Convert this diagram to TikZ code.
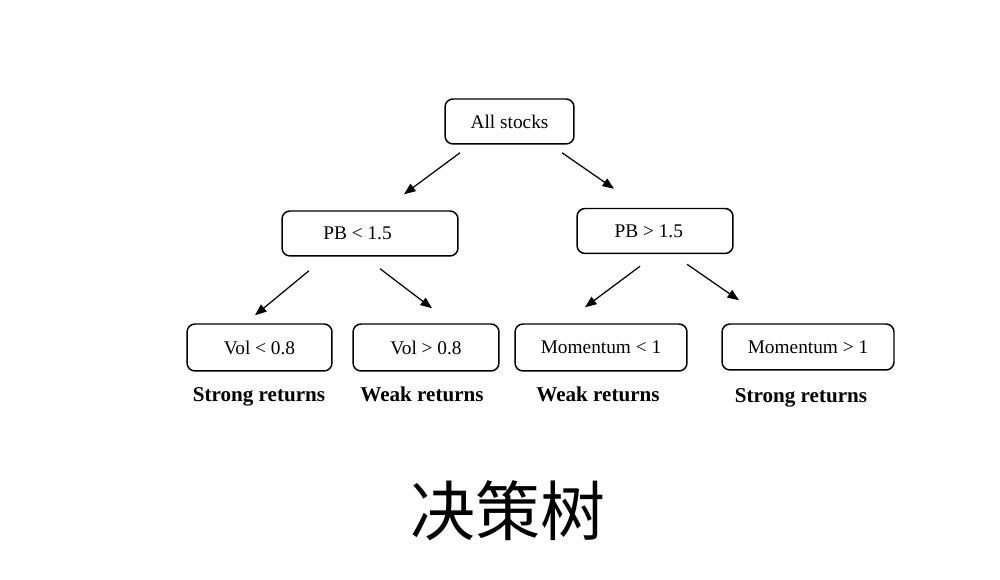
\documentclass[tikz,border=0pt]{standalone}
\usepackage{fontspec}
\setmainfont{Liberation Serif}
\newfontfamily\cjk{Noto Sans CJK SC}
\usepackage{tikz}
\usetikzlibrary{arrows.meta}
\tikzset{>={Triangle[length=2.3mm,width=1.8mm]}}
\tikzset{
	splitbox/.style={draw, rounded corners=1.6mm, line width=0.85pt, minimum height=0.9cm, inner sep=0pt, font=\fontsize{11}{13}\selectfont},
	outcome/.style={anchor=base, font=\fontsize{12}{14}\selectfont\bfseries},
	branch/.style={->, line width=0.7pt}
}

\begin{document}
\begin{tikzpicture}[x=0.02cm, y=-0.02cm]
		\useasboundingbox (0,0) rectangle (1000,580);
		
		% Boxes
		\node[splitbox, minimum width=2.58cm] (all) at (509.5,121.5) {All stocks};
		\node[splitbox, minimum width=3.52cm] (pbl) at (370,233.5) {PB < 1.5\kern0.5cm};
		\node[splitbox, minimum width=3.12cm] (pbh) at (655,231) {PB > 1.5\kern0.25cm};
		\node[splitbox, minimum width=2.90cm, minimum height=0.94cm] (voll) at (259.5,347.5) {Vol < 0.8};
		\node[splitbox, minimum width=2.92cm, minimum height=0.94cm] (volh) at (426,347.5) {Vol > 0.8};
		\node[splitbox, minimum width=3.44cm, minimum height=0.94cm] (moml) at (601,347.5) {Momentum < 1};
		\node[splitbox, minimum width=3.44cm, minimum height=0.92cm] (momh) at (808,347) {Momentum > 1};
		
		% Arrows
		\draw[branch] ([shift={(-49.5,8)}]all.south) -- ([shift={(34,-16)}]pbl.north);
		\draw[branch] ([shift={(52.5,8)}]all.south) -- ([shift={(-41,-19)}]pbh.north);
		\draw[branch] ([shift={(-61,14)}]pbl.south) -- ([shift={(-4.5,-8)}]voll.north);
		\draw[branch] ([shift={(10,12)}]pbl.south) -- ([shift={(6,-15)}]volh.north);
		\draw[branch] ([shift={(-15,12)}]pbh.south) -- ([shift={(-16,-16)}]moml.north);
		\draw[branch] ([shift={(32,10)}]pbh.south) -- ([shift={(-69,-23)}]momh.north);
		
		% Labels
		\node[outcome] (r1) at (259,402) {Strong returns};
		\node[outcome] (r2) at (422,402) {Weak returns};
		\node[outcome] (r3) at (598,402) {Weak returns};
		\node[outcome] (r4) at (801,403) {Strong returns};
		
		% Title
		\node[font=\cjk\fontsize{37}{42}\selectfont] (title) at (508,511) {决策树};
	\end{tikzpicture}
\end{document}
